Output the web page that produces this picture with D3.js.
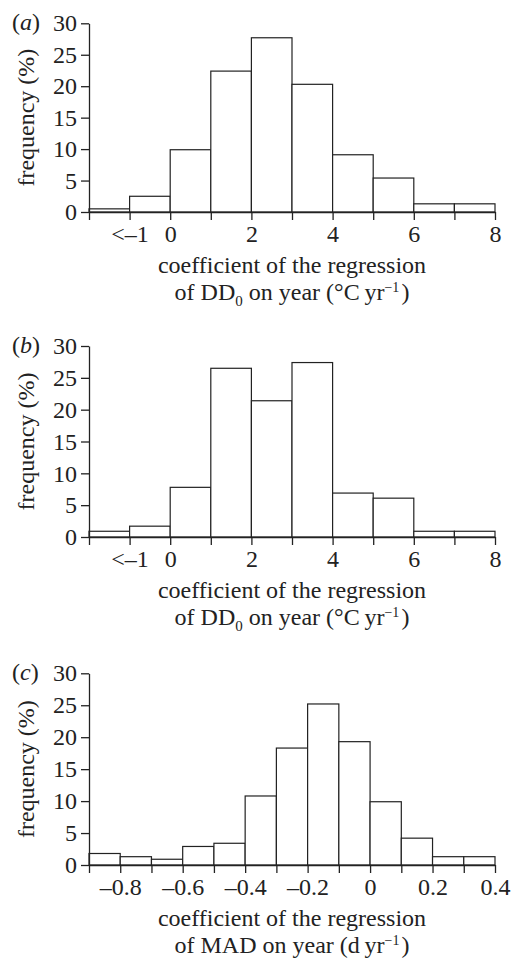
<!DOCTYPE html>
<html>
<head>
<meta charset="utf-8">
<script src="https://cdn.jsdelivr.net/npm/d3@7"></script>
<style>
  body { margin: 0; background: #fff; }
  text { font-family: "Liberation Serif", "Times New Roman", serif; fill: #222; }
</style>
</head>
<body>
<div id="chart"></div>
<script>
// bin edges and frequencies (%)
var ddEdges = [-2, -1, 0, 1, 2, 3, 4, 5, 6, 7, 8];
var freqA = [0.5, 2.5, 9.9, 22.4, 27.7, 20.3, 9.1, 5.4, 1.3, 1.3];
var freqB = [0.9, 1.7, 7.8, 26.5, 21.4, 27.4, 6.9, 6.1, 0.9, 0.9];
var ddTickVals = [-1, 0, 2, 4, 6, 8];
var ddTickLabels = ["<\u20131", "0", "2", "4", "6", "8"];

var madEdges = [-0.9, -0.8, -0.7, -0.6, -0.5, -0.4, -0.3, -0.2, -0.1, 0, 0.1, 0.2, 0.3, 0.4];
var freqC = [1.8, 1.3, 0.9, 2.9, 3.4, 10.8, 18.3, 25.2, 19.3, 9.9, 4.2, 1.3, 1.3];
var madTickVals = [-0.8, -0.6, -0.4, -0.2, 0, 0.2, 0.4];
var madTickLabels = ["\u20130.8", "\u20130.6", "\u20130.4", "\u20130.2", "0", "0.2", "0.4"];

var yTicks = [0, 5, 10, 15, 20, 25, 30];

var W = 512, H = 959;
var left = 89, right = 495;
var fs = "24px";

var svg = d3.select("#chart")
  .append("svg")
  .attr("width", W)
  .attr("height", H);

function drawPanel(opt) {
  var g = svg.append("g");

  var x = d3.scaleLinear()
    .domain([opt.edges[0], opt.edges[opt.edges.length - 1]])
    .range([left, right]);
  var y = d3.scaleLinear()
    .domain([0, 30])
    .range([opt.y0, opt.y30]);

  var bins = opt.values.map(function(v, i) {
    return { x0: opt.edges[i], x1: opt.edges[i + 1], v: v };
  });

  // bars
  g.selectAll("rect")
    .data(bins)
    .enter()
    .append("rect")
    .attr("x", function(d) { return x(d.x0); })
    .attr("y", function(d) { return y(d.v); })
    .attr("width", function(d) { return x(d.x1) - x(d.x0); })
    .attr("height", function(d) { return y(0) - y(d.v); })
    .attr("fill", "#fff")
    .attr("stroke", "#222")
    .attr("stroke-width", 1.2);

  // x axis: tick at every edge, labels only on some
  var xAxis = g.append("g")
    .attr("transform", "translate(0," + y(0) + ")")
    .call(d3.axisBottom(x)
      .tickValues(opt.edges)
      .tickSize(8)
      .tickSizeOuter(0)
      .tickPadding(5)
      .tickFormat(function(d) {
        var idx = opt.tickVals.findIndex(function(t) { return Math.abs(t - d) < 1e-9; });
        return idx >= 0 ? opt.tickLabels[idx] : "";
      }));
  xAxis.selectAll("text").style("font-size", fs).attr("fill", "#222");

  // y axis
  var yAxis = g.append("g")
    .attr("transform", "translate(" + left + ",0)")
    .call(d3.axisLeft(y)
      .tickValues(yTicks)
      .tickSize(8)
      .tickSizeOuter(0)
      .tickPadding(4));
  yAxis.selectAll("text").style("font-size", fs).attr("fill", "#222");

  g.selectAll(".domain, .tick line")
    .attr("stroke", "#222")
    .attr("stroke-width", 1.3);
  g.selectAll("text").style("font-family", "'Liberation Serif', serif");

  // y label
  g.append("text")
    .attr("transform", "translate(34," + ((opt.y0 + opt.y30) / 2) + ") rotate(-90)")
    .attr("text-anchor", "middle")
    .style("font-size", fs)
    .text("frequency (%)");

  // panel letter
  var lab = g.append("text")
    .attr("x", 12)
    .attr("y", opt.y30 + 7)
    .style("font-size", fs);
  lab.append("tspan").text("(");
  lab.append("tspan").style("font-style", "italic").text(opt.letter);
  lab.append("tspan").text(")");

  // x title
  var cx = (left + right) / 2;
  g.append("text")
    .attr("x", cx)
    .attr("y", opt.y0 + 61)
    .attr("text-anchor", "middle")
    .style("font-size", fs)
    .text("coefficient of the regression");

  var t2 = g.append("text")
    .attr("x", cx)
    .attr("y", opt.y0 + 88)
    .attr("text-anchor", "middle")
    .style("font-size", fs);
  opt.title2.forEach(function(p) {
    var s = t2.append("tspan").text(p.t);
    if (p.sub) s.attr("dy", 6).style("font-size", "15px");
    if (p.sup) s.attr("dy", -8).style("font-size", "14px");
    if (p.back) s.attr("dy", p.back);
    if (p.gap) s.attr("dx", p.gap);
  });
}

drawPanel({
  letter: "a", edges: ddEdges, values: freqA, tickVals: ddTickVals, tickLabels: ddTickLabels,
  y0: 212, y30: 23.3,
  title2: [{ t: "of DD" }, { t: "0", sub: true }, { t: " on year (\u00B0C\u2009yr", back: -6 }, { t: "\u22121", sup: true }, { t: ")", back: 8, gap: 2 }]
});

drawPanel({
  letter: "b", edges: ddEdges, values: freqB, tickVals: ddTickVals, tickLabels: ddTickLabels,
  y0: 537, y30: 346,
  title2: [{ t: "of DD" }, { t: "0", sub: true }, { t: " on year (\u00B0C\u2009yr", back: -6 }, { t: "\u22121", sup: true }, { t: ")", back: 8, gap: 2 }]
});

drawPanel({
  letter: "c", edges: madEdges, values: freqC, tickVals: madTickVals, tickLabels: madTickLabels,
  y0: 865, y30: 673.3,
  title2: [{ t: "of MAD on year (d\u2009yr" }, { t: "\u22121", sup: true }, { t: ")", back: 8, gap: 2 }]
});
</script>
</body>
</html>
